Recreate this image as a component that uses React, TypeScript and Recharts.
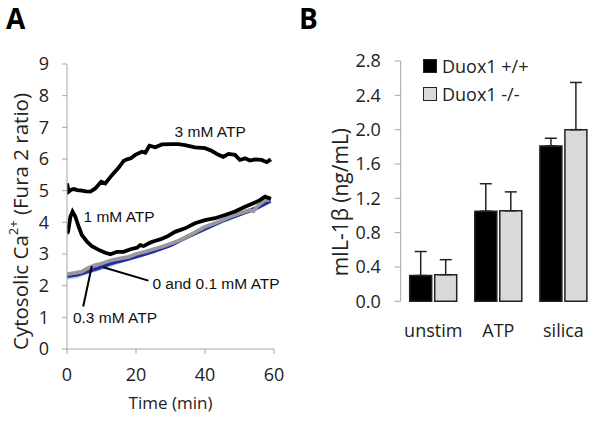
import React from 'react';
import {
  LineChart, Line, XAxis, YAxis, BarChart, Bar, ErrorBar, Legend,
  ReferenceDot, ReferenceLine, Label,
} from 'recharts';

// ---------- Panel A data (time in min, Fura-2 ratio) ----------
const t3mM = [0, 0.5, 1.2, 2, 3, 4.3, 5.5, 6.8, 8.2, 9.9, 11.1, 13, 15, 16.4, 17.4, 18.5, 19.8, 21.7, 22.7, 23.9, 25.6, 27.5, 30.4, 32.3, 34.2, 37.1, 40, 41.9, 43.9, 45.3, 46.8, 48.7, 50.1, 51.6, 53, 54.5, 56.4, 57.9, 59.1];
const v3mM = [5.23, 4.97, 5.03, 5.05, 5.02, 5.0, 4.98, 4.97, 5.07, 5.28, 5.23, 5.49, 5.73, 5.94, 5.99, 6.02, 6.13, 6.23, 6.2, 6.42, 6.37, 6.46, 6.47, 6.47, 6.44, 6.37, 6.34, 6.26, 6.13, 6.07, 6.16, 6.13, 5.97, 6.02, 5.95, 5.99, 5.97, 5.9, 5.99];

const t1mM = [0, 0.3, 1, 1.6, 2.4, 3.4, 4.3, 5.8, 7.2, 9.2, 11.1, 12.6, 14.5, 16.4, 18.4, 20.3, 21.2, 22.2, 24.1, 25.6, 27, 29, 31.3, 34.2, 37.1, 40, 42.9, 45.8, 48.7, 51.6, 54, 55.9, 57.4, 59.1];
const v1mM = [3.65, 3.7, 4.18, 4.34, 4.18, 3.86, 3.6, 3.39, 3.25, 3.13, 3.04, 2.99, 3.07, 3.07, 3.15, 3.2, 3.28, 3.25, 3.36, 3.42, 3.46, 3.55, 3.7, 3.81, 3.97, 4.07, 4.13, 4.23, 4.34, 4.49, 4.6, 4.7, 4.81, 4.74];

const t03mM = [0, 2, 4.3, 6, 8.2, 10, 13, 15.5, 17.9, 20, 22.7, 25, 27.5, 30.4, 33, 36, 40, 43, 46, 49, 51.6, 53, 54, 55.5, 57.4, 59.1];
const v03mM = [2.36, 2.4, 2.44, 2.55, 2.65, 2.7, 2.81, 2.86, 2.91, 3.0, 3.07, 3.15, 3.23, 3.34, 3.45, 3.62, 3.86, 3.98, 4.12, 4.25, 4.34, 4.39, 4.35, 4.55, 4.7, 4.72];

const t0mM = [0, 3, 6, 9, 12, 15, 18, 21, 25, 30, 35, 40, 45, 50, 55, 59];
const v0mM = [2.3, 2.35, 2.45, 2.55, 2.68, 2.77, 2.85, 2.95, 3.08, 3.28, 3.55, 3.8, 4.05, 4.25, 4.45, 4.68];

const t01mM = [0, 3, 6, 10, 15, 20, 30, 40, 50, 59];
const v01mM = [2.25, 2.3, 2.42, 2.55, 2.75, 2.92, 3.28, 3.8, 4.25, 4.66];

const xTicksA = [0, 20, 40, 60];
const yTicksA = [0, 1, 2, 3, 4, 5, 6, 7, 8, 9];

const annotations = [
  { text: '3 mM ATP', t: 41.5, v: 6.86 },
  { text: '1 mM ATP', t: 15.1, v: 4.17 },
  { text: '0 and 0.1 mM ATP', t: 43.2, v: 2.08 },
  { text: '0.3 mM ATP', t: 13.9, v: 1.01 },
];
const leaders = [
  [{ x: 10.5, y: 2.58 }, { x: 23.6, y: 2.16 }],
  [{ x: 7.2, y: 2.62 }, { x: 4.7, y: 1.34 }],
];

// ---------- Panel B data (mIL-1β ng/mL) ----------
const categories = ['unstim', 'ATP', 'silica'];
const seriesNames = ['Duox1 +/+', 'Duox1 -/-'];
const wtMean = [0.30, 1.05, 1.81];
const wtErr = [0.28, 0.32, 0.09];
const koMean = [0.31, 1.055, 2.0];
const koErr = [0.175, 0.22, 0.55];
const yTicksB = [0, 0.4, 0.8, 1.2, 1.6, 2.0, 2.4, 2.8];
const edgeTicks = [0, 1, 2, 3];

const zip = (ts: number[], vs: number[]) => ts.map((t, i) => ({ t, v: vs[i] }));
const d3 = zip(t3mM, v3mM);
const d1 = zip(t1mM, v1mM);
const d03 = zip(t03mM, v03mM);
const d0 = zip(t0mM, v0mM);
const d01 = zip(t01mM, v01mM);

const barData = categories.map((cat, i) => ({
  cat,
  wt: wtMean[i],
  ko: koMean[i],
  wtE: [0, wtErr[i]],
  koE: [0, koErr[i]],
}));

const AXIS = '#a6a6a6';
const TXT = '#222';
const FONT = '"Open Sans", sans-serif';
const ANN_FONT = '"Liberation Sans", Arial, sans-serif';

const YTitleA = (props: any) => {
  const vb = props.viewBox;
  const cx = vb.x + 20;
  const cy = vb.y + vb.height / 2 + 15;
  return (
    <text x={cx} y={cy} transform={`rotate(-90, ${cx}, ${cy})`} textAnchor="middle"
      dominantBaseline="central" fontFamily={FONT} fontSize={20.5} fill={TXT}>
      <tspan>Cytosolic Ca</tspan>
      <tspan dy={-7} fontSize={13}>2+</tspan>
      <tspan dy={7}> (Fura 2 ratio)</tspan>
    </text>
  );
};

const YTitleB = (props: any) => {
  const vb = props.viewBox;
  const cx = vb.x + 40;
  const cy = vb.y + vb.height / 2 + 21;
  return (
    <text x={cx} y={cy} transform={`rotate(-90, ${cx}, ${cy})`} textAnchor="middle"
      dominantBaseline="central" fontFamily={FONT} fontSize={21} fill={TXT}>
      mIL-1β (ng/mL)
    </text>
  );
};

const LegendContent = () => (
  <div style={{ fontFamily: FONT, fontSize: 18, color: TXT }}>
    {seriesNames.map((n, i) => (
      <div key={n} style={{ display: 'flex', alignItems: 'center', height: 28 }}>
        <div style={{
          width: 12, height: 12, background: i === 0 ? '#000' : '#d9d9d9',
          border: '1px solid #222', marginRight: 5,
        }} />
        <span>{n}</span>
      </div>
    ))}
  </div>
);

export default function App() {
  const tickStyle = { fontFamily: FONT, fontSize: 18, fill: TXT };
  return (
    <div style={{ position: 'absolute', left: 0, top: 0, width: 604, height: 421, background: '#fff' }}>
      <div style={{ position: 'absolute', left: 6, top: 0, fontFamily: FONT, fontWeight: 700, fontSize: 28, lineHeight: '36px', color: '#000' }}>A</div>
      <div style={{ position: 'absolute', left: 299, top: 0, fontFamily: FONT, fontWeight: 700, fontSize: 28, lineHeight: '36px', color: '#000' }}>B</div>

      <div style={{ position: 'absolute', left: 0, top: 0 }}>
        <LineChart width={300} height={421} margin={{ top: 64, right: 26, bottom: 0, left: 0 }}>
          <XAxis dataKey="t" type="number" domain={[0, 60]} ticks={xTicksA} height={72}
            stroke={AXIS} tick={tickStyle} tickSize={5} tickMargin={14} allowDataOverflow>
            <Label value="Time (min)" position="insideBottom" offset={12}
              style={{ fontFamily: FONT, fontSize: 17, fill: TXT }} />
          </XAxis>
          <YAxis type="number" domain={[0, 9]} ticks={yTicksA} width={67} interval={0}
            stroke={AXIS} tick={tickStyle} tickSize={5} tickMargin={13}>
            <Label content={<YTitleA />} />
          </YAxis>
          <Line data={d01} dataKey="v" stroke="#a8dcdc" strokeWidth={3.8} dot={false} isAnimationActive={false} />
          <Line data={d0} dataKey="v" stroke="#2a2aa8" strokeWidth={3.8} dot={false} isAnimationActive={false} />
          <Line data={d03} dataKey="v" stroke="#999999" strokeWidth={3.8} dot={false} isAnimationActive={false} />
          <Line data={d1} dataKey="v" stroke="#000" strokeWidth={3.8} dot={false} isAnimationActive={false} />
          <Line data={d3} dataKey="v" stroke="#000" strokeWidth={3.8} dot={false} isAnimationActive={false} />
          {leaders.map((seg, i) => (
            <ReferenceLine key={i} segment={seg} stroke="#000" strokeWidth={2} ifOverflow="visible" />
          ))}
          {annotations.map((a) => (
            <ReferenceDot key={a.text} x={a.t} y={a.v} r={0} fill="none" stroke="none" ifOverflow="visible"
              label={<Label value={a.text} position="center" fontFamily={ANN_FONT} fontSize={15.5} fill="#111" />} />
          ))}
        </LineChart>
      </div>

      <div style={{ position: 'absolute', left: 300, top: 0 }}>
        <BarChart width={304} height={421} data={barData} margin={{ top: 61, right: 8, bottom: 0, left: 0 }}
          barSize={22} barGap={3} barCategoryGap={9}>
          <XAxis xAxisId="edges" type="number" domain={[0, 3]} ticks={edgeTicks} height={0}
            stroke={AXIS} tick={false} tickSize={7} />
          <XAxis xAxisId="cat" dataKey="cat" height={63.7} axisLine={false} tickLine={false}
            tickSize={0} tickMargin={23} tick={tickStyle} interval={0} />
          <YAxis type="number" domain={[0, 2.8]} ticks={yTicksB} width={100.7} interval={0}
            stroke={AXIS} tick={tickStyle} tickSize={6} tickMargin={14}
            tickFormatter={(v: number) => v.toFixed(1)}>
            <Label content={<YTitleB />} />
          </YAxis>
          <Legend content={<LegendContent />} wrapperStyle={{ position: 'absolute', left: 123, top: 52, width: 'auto' }} />
          <Bar xAxisId="cat" dataKey="wt" name={seriesNames[0]} fill="#000" stroke="#222" strokeWidth={1.5} isAnimationActive={false}>
            <ErrorBar dataKey="wtE" width={6} stroke="#222" strokeWidth={1.5} direction="y" />
          </Bar>
          <Bar xAxisId="cat" dataKey="ko" name={seriesNames[1]} fill="#d9d9d9" stroke="#222" strokeWidth={1.5} isAnimationActive={false}>
            <ErrorBar dataKey="koE" width={6} stroke="#222" strokeWidth={1.5} direction="y" />
          </Bar>
        </BarChart>
      </div>
    </div>
  );
}
